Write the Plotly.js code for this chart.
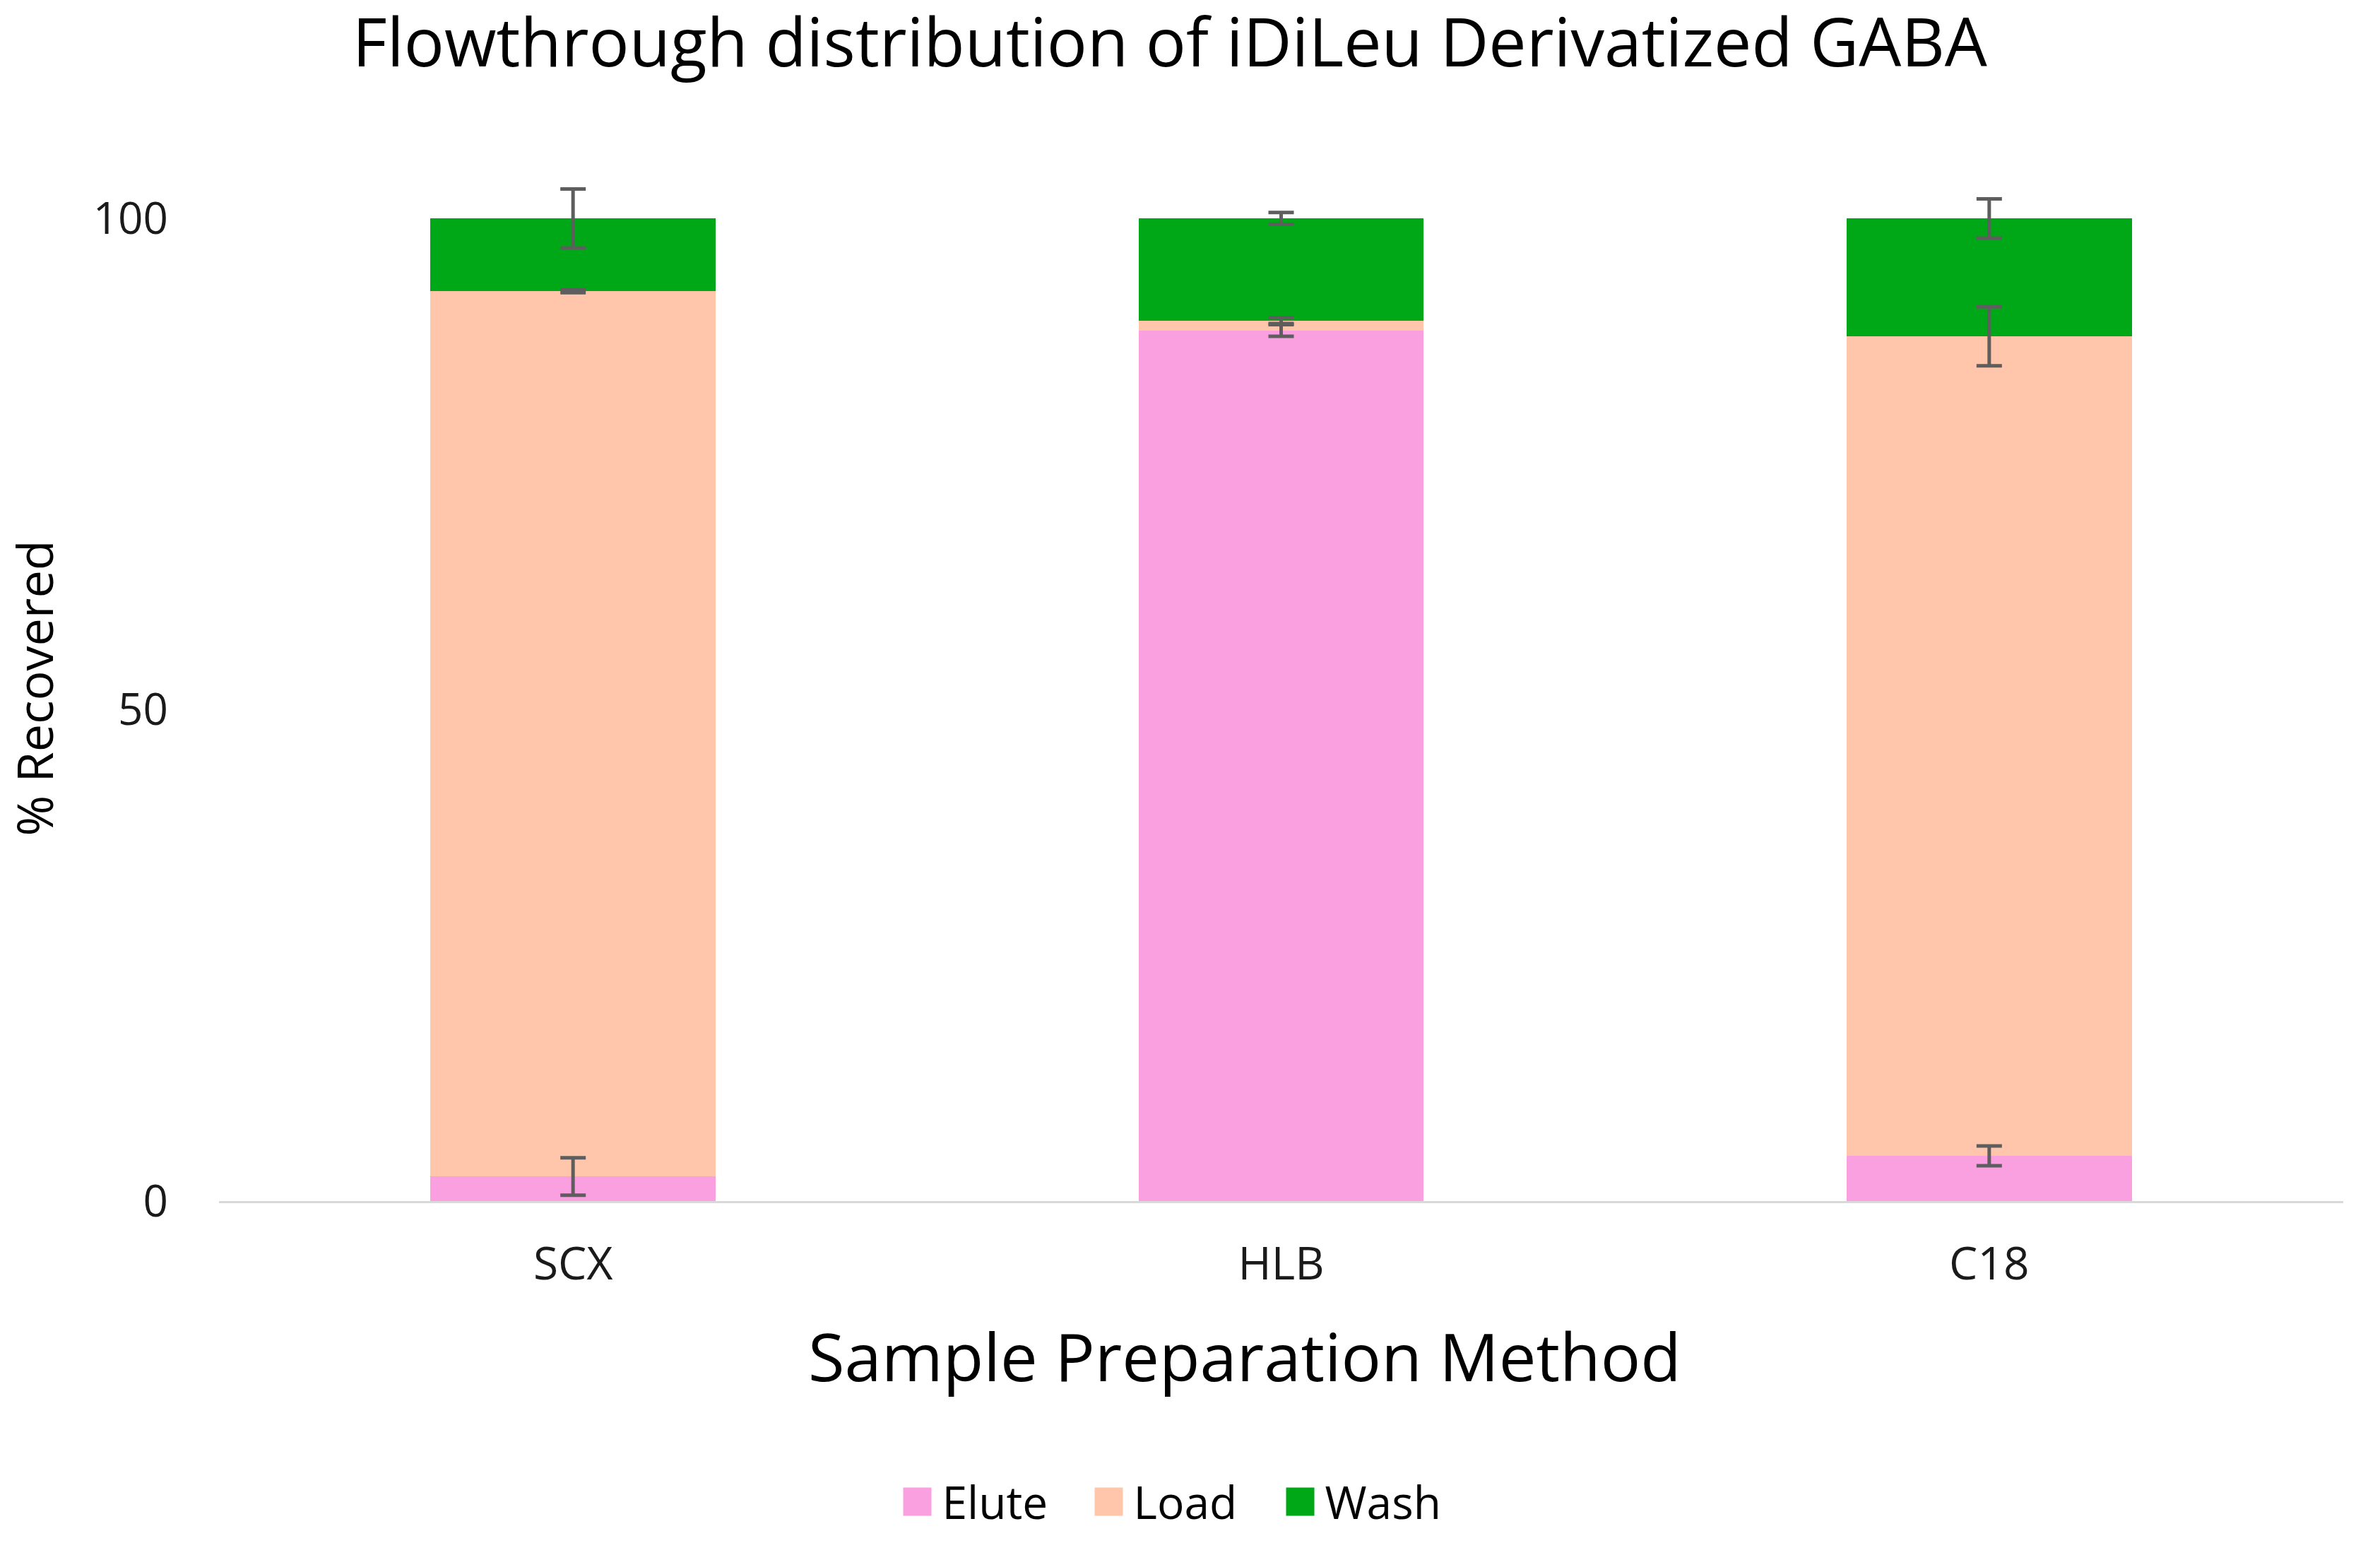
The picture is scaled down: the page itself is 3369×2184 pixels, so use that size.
<!DOCTYPE html>
<html>
<head>
<meta charset="utf-8">
<script src="https://cdn.plot.ly/plotly-3.0.1.min.js"></script>
<style>html,body{margin:0;padding:0;background:#fff;}#chart{width:3369px;height:2184px;}</style>
</head>
<body>
<div id="chart"></div>
<script>
const categories = ['SCX', 'HLB', 'C18'];
const elute = [2.5, 88.6, 4.6];
const load = [90.1, 1.0, 83.4];
const wash = [7.4, 10.4, 12.0];
const eluteErr = [1.9, 0.6, 1.0];
const loadErr = [0.15, 0.3, 3.0];
const washErr = [3.0, 0.6, 2.0];
const seriesNames = ['Elute', 'Load', 'Wash'];
const seriesColors = ['#FA9FE0', '#FFC6AB', '#00A818'];
const yTicks = [0, 50, 100];

const FONT = '"Open Sans", "Noto Sans", sans-serif';
const errStyle = { color: '#5E5E5E', thickness: 5, width: 18 };

const seriesVals = [elute, load, wash];
const seriesErrs = [eluteErr, loadErr, washErr];

const data = [];
// stacked bars
seriesVals.forEach(function (vals, i) {
  data.push({
    type: 'bar', name: seriesNames[i], x: categories, y: vals,
    marker: { color: seriesColors[i], line: { width: 0 } },
    hoverinfo: 'name+y'
  });
});
// error bars drawn on top of the stack, at each segment's top
const cum = categories.map(function () { return 0; });
seriesVals.forEach(function (vals, i) {
  const tops = vals.map(function (v, k) { cum[k] += v; return cum[k]; });
  data.push({
    type: 'scatter', mode: 'markers', x: categories, y: tops,
    marker: { color: 'rgba(0,0,0,0)', size: 1 },
    error_y: Object.assign({ type: 'data', array: seriesErrs[i], visible: true }, errStyle),
    showlegend: false, hoverinfo: 'skip'
  });
});

const layout = {
  width: 3369, height: 2184,
  paper_bgcolor: '#ffffff', plot_bgcolor: '#ffffff',
  barmode: 'stack', bargap: 0.597,
  margin: { l: 310, r: 52, t: 248, b: 484, autoexpand: false },
  font: { family: FONT, color: '#1a1a1a', size: 64 },
  title: {
    text: 'Flowthrough distribution of iDiLeu Derivatized GABA',
    font: { family: FONT, size: 95, color: '#000000' },
    xref: 'container', yref: 'container', x: 0.4915, xanchor: 'center',
    y: 0.9874, yanchor: 'top'
  },
  xaxis: {
    type: 'category', showgrid: false, zeroline: false,
    showline: true, linecolor: '#d9d9d9', linewidth: 3,
    ticks: '', tickfont: { family: FONT, size: 64, color: '#1a1a1a' },
    ticklabelstandoff: 31,
    automargin: false
  },
  yaxis: {
    range: [0, 104.4], showgrid: false, zeroline: false, showline: false,
    tickvals: yTicks, ticktext: yTicks.map(String), ticks: '',
    tickfont: { family: FONT, size: 62, color: '#1a1a1a' },
    ticklabelstandoff: 71,
    title: { text: '% Recovered', font: { family: FONT, size: 70, color: '#000000' }, standoff: 40 },
    automargin: false
  },
  annotations: [{
    text: 'Sample Preparation Method', showarrow: false,
    xref: 'paper', yref: 'paper', x: 0.4829, xanchor: 'center',
    y: -0.1508, yanchor: 'middle',
    font: { family: FONT, size: 94, color: '#000000' }
  }],
  showlegend: true,
  legend: {
    orientation: 'h', xref: 'container', yref: 'container',
    x: 0.4957, xanchor: 'center', y: 0.0266, yanchor: 'middle',
    font: { family: FONT, size: 64, color: '#000000' },
    itemwidth: 60, entrywidth: 196, entrywidthmode: 'pixels',
    traceorder: 'normal', itemclick: false, itemdoubleclick: false
  }
};

Plotly.newPlot('chart', data, layout, { staticPlot: true, displayModeBar: false }).then(function () {
  document.querySelectorAll('.legend .legendpoints path').forEach(function (p) {
    p.setAttribute('d', 'M20,20H-20V-20H20Z');
  });
});
</script>
</body>
</html>
